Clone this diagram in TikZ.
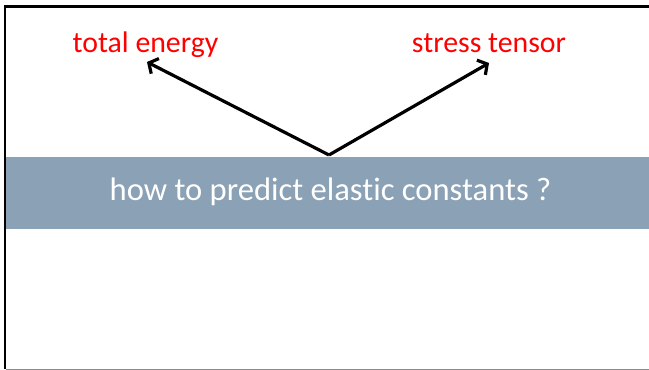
\documentclass[tikz,border=0pt]{standalone}
\usepackage{fontspec}
\setmainfont{Carlito}[Ligatures={NoCommon,NoContextual},RawFeature={-liga;-clig;-dlig}]
\usetikzlibrary{arrows.meta}
\definecolor{bandcol}{HTML}{8BA1B5}
\definecolor{lblred}{HTML}{FF0000}
\tikzset{
  lbl/.style={text=lblred, font=\fontsize{29.8}{34}\selectfont, anchor=base, inner sep=0pt},
  bandtxt/.style={text=white, font=\fontsize{32.6}{38}\selectfont, anchor=base, inner sep=0pt},
  arr/.style={line width=3.2pt, -{Straight Barb[length=7pt,width=17pt,line width=3.2pt]}, line join=miter},
}
\begin{document}
\begin{tikzpicture}[x=1pt,y=-1pt]
\useasboundingbox (0,0) rectangle (649,370);
\fill[white] (0,0) rectangle (649,370);
% band
\fill[bandcol] (6,157) rectangle (649,229);
% frame
\draw[line width=2.2pt, black] (649,6.5) -- (5,6.5) -- (5,369);
\draw[line width=1.2pt, black!45] (5.5,369.2) -- (649,369.2);
% labels
\node[lbl] (te) at (145.5,52) {total energy};
\node[lbl] (st) at (489,52) {stress tensor};
\node[bandtxt] (q) at (330.5,200) {how to predict elastic constants ?};
% arrows
\coordinate (apex) at (329,155);
\coordinate (teend) at (147,62);
\coordinate (stend) at (489,63);
\draw[arr] (apex) -- (teend);
\draw[arr] (apex) -- (stend);
\end{tikzpicture}
\end{document}
